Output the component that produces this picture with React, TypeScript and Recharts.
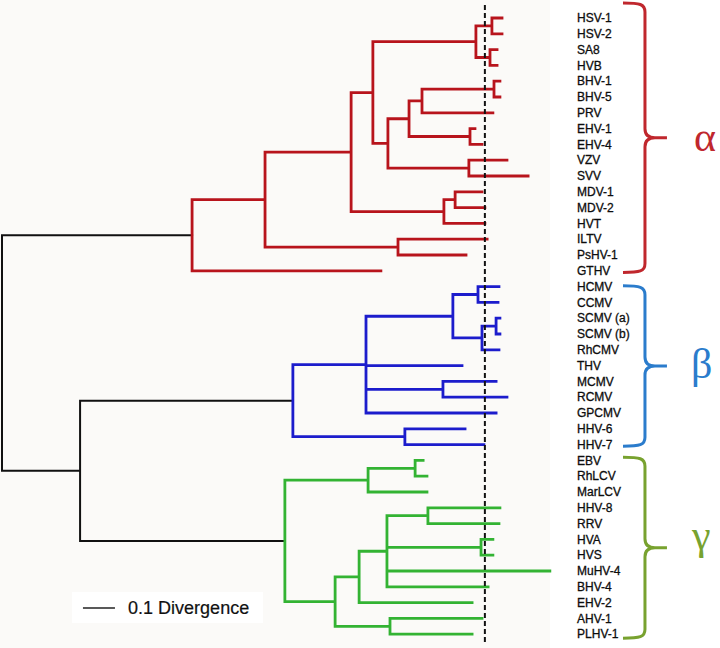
import React from 'react';
import { ComposedChart, Line, XAxis, YAxis, ReferenceLine, ReferenceArea, Scatter } from 'recharts';

// ---------- DATA ----------
const leafNames = [
  'HSV-1', 'HSV-2', 'SA8', 'HVB', 'BHV-1', 'BHV-5', 'PRV', 'EHV-1', 'EHV-4', 'VZV', 'SVV',
  'MDV-1', 'MDV-2', 'HVT', 'ILTV', 'PsHV-1', 'GTHV',
  'HCMV', 'CCMV', 'SCMV (a)', 'SCMV (b)', 'RhCMV', 'THV', 'MCMV', 'RCMV', 'GPCMV', 'HHV-6', 'HHV-7',
  'EBV', 'RhLCV', 'MarLCV', 'HHV-8', 'RRV', 'HVA', 'HVS', 'MuHV-4', 'BHV-4', 'EHV-2', 'AHV-1', 'PLHV-1',
];

// divergence from root at each leaf tip
const leafTips = [
  1.5625, 1.5625, 1.547, 1.547, 1.556, 1.556, 1.534, 1.478, 1.5, 1.578, 1.644,
  1.5, 1.509, 1.509, 1.516, 1.45, 1.184,
  1.553, 1.55, 1.556, 1.556, 1.553, 1.4375, 1.544, 1.578, 1.544, 1.447, 1.506,
  1.316, 1.328, 1.328, 1.556, 1.553, 1.534, 1.534, 1.712, 1.519, 1.469, 1.5, 1.469,
];

// internal nodes: [id, divergence from root, children]
const innerNodes: [string, number, string[]][] = [
  ['root', 0, ['A', 'N1']],
  ['A', 0.594, ['A2', 'GTHV']],
  ['A2', 0.822, ['A3', 'A_ILT']],
  ['A3', 1.091, ['A4', 'A_MDV']],
  ['A4', 1.159, ['A_HSV', 'A5']],
  ['A_HSV', 1.481, ['A_HSV12', 'A_SA8']],
  ['A_HSV12', 1.531, ['HSV-1', 'HSV-2']],
  ['A_SA8', 1.525, ['SA8', 'HVB']],
  ['A5', 1.206, ['A6', 'A_VZV']],
  ['A6', 1.272, ['A7', 'A_EHV']],
  ['A7', 1.3125, ['A_BHV', 'PRV']],
  ['A_BHV', 1.5375, ['BHV-1', 'BHV-5']],
  ['A_EHV', 1.4625, ['EHV-1', 'EHV-4']],
  ['A_VZV', 1.459, ['VZV', 'SVV']],
  ['A_MDV', 1.381, ['A_MDV12', 'HVT']],
  ['A_MDV12', 1.416, ['MDV-1', 'MDV-2']],
  ['A_ILT', 1.2375, ['ILTV', 'PsHV-1']],
  ['N1', 0.244, ['B', 'G']],
  ['B', 0.909, ['B2', 'B_HHV']],
  ['B2', 1.1375, ['B3', 'THV', 'B_MC', 'GPCMV']],
  ['B3', 1.409, ['B_HC', 'B4']],
  ['B_HC', 1.4875, ['HCMV', 'CCMV']],
  ['B4', 1.5, ['B_SC', 'RhCMV']],
  ['B_SC', 1.544, ['SCMV (a)', 'SCMV (b)']],
  ['B_MC', 1.378, ['MCMV', 'RCMV']],
  ['B_HHV', 1.259, ['HHV-6', 'HHV-7']],
  ['G', 0.884, ['G_LCV', 'G2']],
  ['G_LCV', 1.144, ['G_EBV', 'MarLCV']],
  ['G_EBV', 1.291, ['EBV', 'RhLCV']],
  ['G2', 1.041, ['G3', 'G_AHV']],
  ['G3', 1.116, ['G4', 'EHV-2']],
  ['G4', 1.203, ['G_HHV8', 'G_HV', 'MuHV-4', 'BHV-4']],
  ['G_HHV8', 1.331, ['HHV-8', 'RRV']],
  ['G_HV', 1.497, ['HVA', 'HVS']],
  ['G_AHV', 1.2125, ['AHV-1', 'PLHV-1']],
];

const cladeRoots = ['A', 'B', 'G'];
const cladeLetters = ['α', 'β', 'γ'];
const cladeFirstLeaf = [0, 17, 28];
const cladeLastLeaf = [16, 27, 39];
const cutoff = 1.509;
const scaleBarLength = 0.1;
const scaleBarText = '0.1 Divergence';

// ---------- STYLE / LAYOUT ----------
const W = 720;
const H = 648;
const X0 = -0.00625;
const X1 = 2.24375;
const Y0 = -1.1392;
const Y1 = 39.8734;
const treeColors = ['#b8141c', '#1c1ccc', '#33b333'];
const braceColors = ['#c0272d', '#2b7ccc', '#78a22f'];
const rootColor = '#111111';
const LABEL_X = 1.797;
const BRACE_X1 = 1.9406;
const BRACE_X2 = 2.078;
const braceTopPad = [-0.95, -0.05, -0.2];
const braceBotPad = [0.1, 0.1, 0.25];
const letterDy = [13, 12, 1];
const letterDx = [27, 24, 25];

// ---------- TREE GEOMETRY ----------
type Pt = { x: number | null; y: number | null };
const pos = new Map<string, { x: number; y: number }>();
leafNames.forEach((n, i) => pos.set(n, { x: leafTips[i], y: i }));
const nodeMap = new Map(innerNodes.map(([id, x, kids]) => [id, { x, kids }]));

function yOf(id: string): number {
  const p = pos.get(id);
  if (p) return p.y;
  const n = nodeMap.get(id)!;
  const y = (yOf(n.kids[0]) + yOf(n.kids[n.kids.length - 1])) / 2;
  pos.set(id, { x: n.x, y });
  return y;
}
yOf('root');

const segs: Record<string, Pt[]> = {};
function push(color: string, a: Pt, b: Pt) {
  if (!segs[color]) segs[color] = [];
  segs[color].push(a, b, { x: b.x, y: null });
}
function walk(id: string, color: string) {
  const n = nodeMap.get(id);
  if (!n) return;
  const ci = cladeRoots.indexOf(id);
  const c = ci >= 0 ? treeColors[ci] : color;
  const ys = n.kids.map((k) => yOf(k));
  push(c, { x: n.x, y: ys[0] }, { x: n.x, y: ys[ys.length - 1] });
  n.kids.forEach((k) => {
    const p = pos.get(k)!;
    push(c, { x: n.x, y: p.y }, { x: p.x, y: p.y });
    walk(k, c);
  });
}
walk('root', rootColor);

const labelData = leafNames.map((name, i) => ({ x: LABEL_X, y: i, name }));
const scaleY = 37.34;
const scaleX = 0.253;
const scaleTextData = [{ x: 0.394, y: scaleY, name: scaleBarText }];

function LeafLabel(props: any) {
  const { cx, cy, payload } = props;
  return (
    <text
      x={cx}
      y={cy}
      dy="0.35em"
      fontFamily="'Liberation Sans', Arial, Helvetica, sans-serif"
      fontSize={12}
      fill="#0d0d0d"
      stroke="#0d0d0d"
      strokeWidth={0.3}
    >
      {payload.name}
    </text>
  );
}

function ScaleLabel(props: any) {
  const { cx, cy, payload } = props;
  return (
    <text
      x={cx}
      y={cy}
      dy="0.35em"
      fontFamily="'Liberation Sans', Arial, Helvetica, sans-serif"
      fontSize={18}
      fill="#111"
      stroke="#111"
      strokeWidth={0.2}
    >
      {payload.name}
    </text>
  );
}

function makeBrace(i: number) {
  return (props: any) => {
    const { x, y, width: w, height: h } = props;
    const s = x + w / 2;
    const t = x + w;
    const m = y + h / 2;
    const r = 9;
    const d = `M${x},${y} C${s - 5},${y} ${s},${y + 1} ${s},${y + r} L${s},${m - r} C${s},${m - 3} ${s + 3},${m} ${s + 10},${m} L${t},${m} M${s + 10},${m} C${s + 3},${m} ${s},${m + 3} ${s},${m + r} L${s},${y + h - r} C${s},${y + h - 1} ${s - 5},${y + h} ${x},${y + h}`;
    return (
      <g>
        <path d={d} fill="none" stroke={braceColors[i]} strokeWidth={3} />
        <text
          x={t + letterDx[i]}
          y={m + letterDy[i]}
          fontFamily="'Liberation Serif', 'Times New Roman', serif"
          fontSize={42}
          fill={braceColors[i]}
        >
          {cladeLetters[i]}
        </text>
      </g>
    );
  };
}

export default function App() {
  return (
    <div style={{ position: 'absolute', left: 0, top: 0, width: W, height: H, background: '#ffffff' }}>
      <ComposedChart width={W} height={H} margin={{ top: 0, right: 0, bottom: 0, left: 0 }}>
        <XAxis type="number" dataKey="x" domain={[X0, X1]} allowDataOverflow hide />
        <YAxis type="number" dataKey="y" domain={[Y0, Y1]} allowDataOverflow reversed hide />
        <ReferenceArea x1={X0} x2={1.7125} y1={Y0} y2={Y1} fill="#fbfaf8" fillOpacity={1} stroke="none" />
        <ReferenceArea x1={0.219} x2={0.816} y1={36.33} y2={38.29} fill="#ffffff" fillOpacity={1} stroke="none" />
        {Object.keys(segs).map((color) => (
          <Line
            key={color}
            data={segs[color]}
            dataKey="y"
            stroke={color}
            strokeWidth={color === rootColor ? 2 : 2.8}
            strokeLinecap="square"
            dot={false}
            activeDot={false}
            connectNulls={false}
            type="linear"
            isAnimationActive={false}
          />
        ))}
        <ReferenceLine
          segment={[{ x: cutoff, y: -0.82 }, { x: cutoff, y: 39.56 }]}
          stroke="#111"
          strokeWidth={2}
          strokeDasharray="5 3"
        />
        <ReferenceLine
          segment={[{ x: scaleX, y: scaleY }, { x: scaleX + scaleBarLength, y: scaleY }]}
          stroke="#222"
          strokeWidth={1.5}
        />
        <Scatter data={labelData} shape={LeafLabel} isAnimationActive={false} />
        <Scatter data={scaleTextData} shape={ScaleLabel} isAnimationActive={false} />
        {cladeRoots.map((c, i) => (
          <ReferenceArea
            key={c}
            x1={BRACE_X1}
            x2={BRACE_X2}
            y1={cladeFirstLeaf[i] + braceTopPad[i]}
            y2={cladeLastLeaf[i] + braceBotPad[i]}
            shape={makeBrace(i)}
            ifOverflow="visible"
          />
        ))}
      </ComposedChart>
    </div>
  );
}
